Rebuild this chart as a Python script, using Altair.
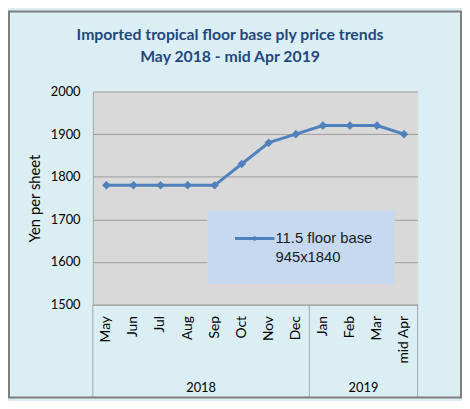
import altair as alt
import pandas as pd

months = ["May", "Jun", "Jul", "Aug", "Sep", "Oct", "Nov", "Dec", "Jan", "Feb", "Mar", "mid Apr"]
prices = [1780, 1780, 1780, 1780, 1780, 1830, 1880, 1900, 1920, 1920, 1920, 1900]
years = ["2018", "2019"]
year_anchor = ["Aug", "Feb"]        # year label sits at the right edge of this month's band
group_ends = ["Dec", "mid Apr"]     # dividers at right edge of these bands
y_ticks = [1500, 1600, 1700, 1800, 1900, 2000]
series_name = "11.5 floor base"
series_sub = "945x1840"
title_lines = ["Imported tropical floor base ply price trends", "May 2018 - mid Apr 2019"]

W, H = 329, 216
BLUE = "#4F81BD"
GRID = "#9C9C9C"
AX = "#A6A6A6"
FONT = "Lato"

df = pd.DataFrame({"month": months, "price": prices})
xscale = alt.Scale(type="band", domain=months, paddingInner=0, paddingOuter=0)

line = alt.Chart(df).mark_line(
    color=BLUE, strokeWidth=3,
    point=alt.OverlayMarkDef(shape="diamond", size=75, filled=True, color=BLUE),
).encode(
    x=alt.X("month:N", scale=xscale, sort=months, bandPosition=0.5,
            axis=alt.Axis(title=None, labelAngle=270, labelAlign="right", labelBaseline="middle",
                          labelPadding=11, ticks=False, domain=True, domainColor=AX, grid=False,
                          labelFont=FONT, labelFontSize=14, labelColor="#000000")),
    y=alt.Y("price:Q", scale=alt.Scale(domain=[1500, 2000], nice=False, zero=False),
            axis=alt.Axis(values=y_ticks, format="d", grid=True, gridColor=GRID, ticks=False, domain=True,
                          domainColor=AX, labelPadding=13, labelFont=FONT, labelFontSize=13,
                          labelColor="#000000", title="Yen per sheet", titleX=-59, titleY=H / 2,
                          titleAngle=270, titleAlign="center", titleBaseline="middle",
                          titleFont=FONT, titleFontSize=15, titleFontWeight="normal",
                          titleColor="#000000")),
)

left_div = alt.Chart(pd.DataFrame({"month": [months[0]]})).mark_rule(color=AX, strokeWidth=1).encode(
    x=alt.X("month:N", scale=xscale, bandPosition=0), y=alt.value(H), y2=alt.value(310))
right_div = alt.Chart(pd.DataFrame({"month": group_ends})).mark_rule(color=AX, strokeWidth=1).encode(
    x=alt.X("month:N", scale=xscale, bandPosition=1), y=alt.value(H), y2=alt.value(310))

year_txt = alt.Chart(pd.DataFrame({"month": year_anchor, "year": years})).mark_text(
    font=FONT, fontSize=13, color="#000000", baseline="middle", align="center").encode(
    x=alt.X("month:N", scale=xscale, bandPosition=1), y=alt.value(300), text="year:N")

one = pd.DataFrame({"k": [0]})
leg_box = alt.Chart(one).mark_rect(color="#C6D9F1").encode(
    x=alt.value(116), x2=alt.value(306), y=alt.value(121), y2=alt.value(195))
leg_line = alt.Chart(one).mark_rule(color=BLUE, strokeWidth=3).encode(
    x=alt.value(144), x2=alt.value(184), y=alt.value(149))
leg_pt = alt.Chart(one).mark_point(shape="diamond", size=30, filled=True, color=BLUE, opacity=1).encode(
    x=alt.value(164), y=alt.value(149))
leg_txt = alt.Chart(pd.DataFrame({"t": [series_name + "\n" + series_sub]})).mark_text(
    font="Liberation Sans", fontSize=15, color="#1A1A1A", align="left", baseline="top",
    lineBreak="\n", lineHeight=19).encode(
    x=alt.value(185), y=alt.value(142), text="t:N")

title_txt = alt.Chart(pd.DataFrame({"t": ["\n".join(title_lines)]})).mark_text(
    font=FONT, fontSize=16, fontWeight="bold", color="#1F497D", align="center", baseline="top",
    lineBreak="\n", lineHeight=22).encode(
    x=alt.value(139), y=alt.value(-65), text="t:N")

frame = alt.Chart(one).mark_rect(filled=False, stroke="#7F7F7F", strokeWidth=2).encode(
    x=alt.value(-85), x2=alt.value(373), y=alt.value(-81), y2=alt.value(310))

chart = alt.layer(
    line, left_div, right_div, year_txt, leg_box, leg_line, leg_pt, leg_txt, title_txt, frame
).properties(
    width=W, height=H,
    autosize=alt.AutoSizeParams(type="none"),
    padding={"left": 86, "top": 82, "right": 45, "bottom": 95},
    background="#DBEEF4",
).configure_view(fill="#D9D9D9", stroke="transparent")

chart.save("out.html", embed_options={"renderer": "svg", "actions": False})
